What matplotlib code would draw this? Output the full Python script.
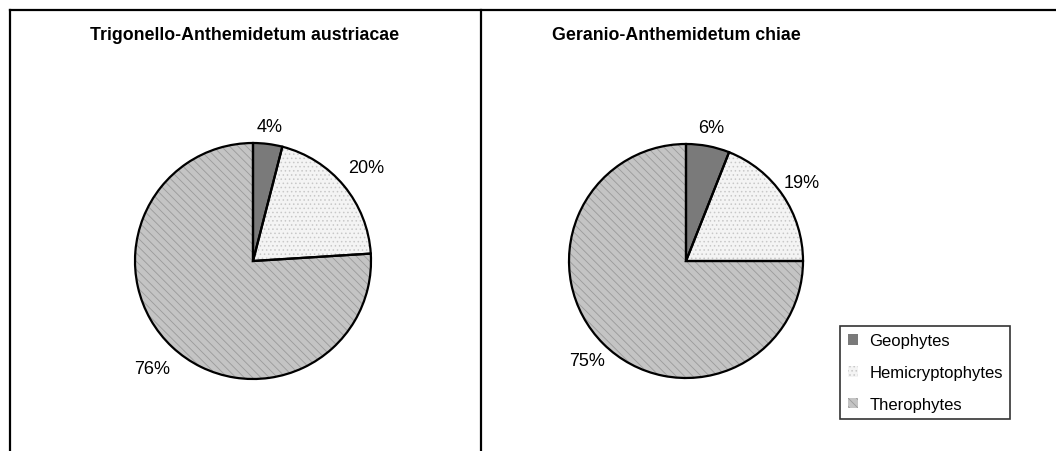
import matplotlib
matplotlib.use("Agg")
import matplotlib.pyplot as plt
from matplotlib.lines import Line2D
from matplotlib.patches import Patch
import numpy as np

plt.rcParams['font.family'] = ['Liberation Sans', 'DejaVu Sans']
plt.rcParams['hatch.linewidth'] = 0.6

categories = ["Geophytes", "Hemicryptophytes", "Therophytes"]
titles = ["Trigonello-Anthemidetum austriacae", "Geranio-Anthemidetum chiae"]
values_trigonello = [4, 20, 76]
values_geranio = [6, 19, 75]

faces = ["#7a7a7a", "#f4f4f4", "#c4c4c4"]
hatches = [None, "....", "\\\\\\\\"]
hatch_cols = ["#7a7a7a", "#c8c8c8", "#9a9a9a"]

W, H = 1056, 452
fig = plt.figure(figsize=(W / 100, H / 100), dpi=100)
ax = fig.add_axes([0, 0, 1, 1])


def py(y):
    return H - y


def draw_pie(values, cx, cy, r, label_dist):
    c = (cx, py(cy))
    wedges, _ = ax.pie(values, colors=faces, startangle=90, counterclock=False,
                       center=c, radius=r, wedgeprops=dict(linewidth=0))
    for w, hc, ht in zip(wedges, hatch_cols, hatches):
        if ht:
            w.set_hatch(ht)
            w.set_edgecolor(hc)
            w.set_linewidth(0)
    ax.pie(values, colors=["none"] * 3, startangle=90, counterclock=False,
           center=c, radius=r,
           wedgeprops=dict(linewidth=1.6, edgecolor="black", facecolor="none"))
    for w, v, d in zip(wedges, values, label_dist):
        ang = np.deg2rad((w.theta1 + w.theta2) / 2)
        ax.text(c[0] + d * r * np.cos(ang), c[1] + d * r * np.sin(ang),
                f"{v}%", ha="center", va="center", fontsize=13)


draw_pie(values_trigonello, 253, 262, 118, [1.15, 1.24, 1.25])
draw_pie(values_geranio, 686, 262, 117, [1.16, 1.20, 1.20])

ax.set_xlim(0, W)
ax.set_ylim(0, H)
ax.set_aspect("auto")
ax.axis("off")

# panel frames
ax.add_line(Line2D([10, W], [py(11), py(11)], color="black", lw=1.6))
ax.add_line(Line2D([10, 10], [py(11), 0], color="black", lw=1.6))
ax.add_line(Line2D([481, 481], [py(11), 0], color="black", lw=1.6))

ax.text(245, py(36), titles[0], ha="center", va="center", fontsize=12.8, fontweight="bold")
ax.text(676, py(36), titles[1], ha="center", va="center", fontsize=12.8, fontweight="bold")

handles = [Patch(facecolor=f, edgecolor=hc if ht else "none", hatch=ht, linewidth=0)
           for f, ht, hc in zip(faces, hatches, hatch_cols)]
leg = ax.legend(handles, categories, loc="upper left",
                bbox_to_anchor=(840 / W, 1 - 327 / H), frameon=True, fancybox=False,
                edgecolor="black", fontsize=12, handlelength=0.6, handleheight=0.6,
                handletextpad=0.7, labelspacing=1.0, borderpad=0.45, borderaxespad=0)
leg.get_frame().set_linewidth(1.2)

fig.savefig("out.png", dpi=100)
